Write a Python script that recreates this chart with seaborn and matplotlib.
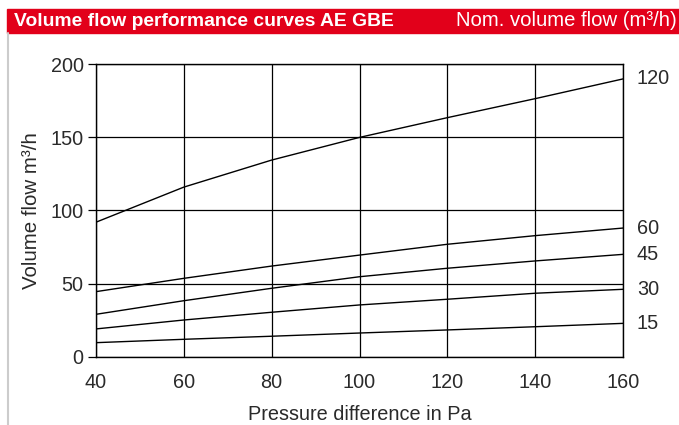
import pandas as pd
import seaborn as sns
import matplotlib.pyplot as plt
from matplotlib.patches import Rectangle
from matplotlib.lines import Line2D

# pressure difference (Pa)
pressure = [40, 60, 80, 100, 120, 140, 160]
# nominal volume flow -> curve values (m3/h)
flow_120 = [92, 116, 134.5, 150, 163.5, 176.5, 190]
flow_60 = [44.5, 53.6, 62, 69.5, 76.9, 82.8, 88]
flow_45 = [29, 38.3, 46.8, 54.7, 60.5, 65.5, 70]
flow_30 = [19, 25.1, 30.4, 35.4, 39.3, 43.4, 46.1]
flow_15 = [9.6, 11.9, 14, 16.2, 18.3, 20.5, 22.8]
nominal = ['120', '60', '45', '30', '15']

curves = [flow_120, flow_60, flow_45, flow_30, flow_15]
rows = []
for nom, vals in zip(nominal, curves):
    for p, v in zip(pressure, vals):
        rows.append({'pressure': p, 'flow': v, 'nominal': nom})
df = pd.DataFrame(rows)

sns.set_theme(style='white')
plt.rcParams['font.family'] = ['Liberation Sans', 'DejaVu Sans']

W, H = 679, 425
txt = '#2a2a2a'
fs = 14.3
fig = plt.figure(figsize=(W / 100, H / 100), dpi=100)
ax = fig.add_axes([96 / W, 1 - 356.7 / H, (623 - 96) / W, (356.7 - 64.3) / H])

sns.lineplot(data=df, x='pressure', y='flow', hue='nominal',
             palette=['black'] * len(nominal), legend=False,
             linewidth=1.0, ax=ax)

ax.set_xlim(40, 160)
ax.set_ylim(0, 200)
ax.set_xticks(range(40, 161, 20))
ax.set_yticks(range(0, 201, 50))
ax.grid(True, color='black', linewidth=0.9)
for s in ax.spines.values():
    s.set_color('black')
    s.set_linewidth(1)
ax.tick_params(axis='y', length=6, width=0.9, color='black', labelsize=fs,
               labelcolor=txt, pad=3, left=True)
ax.tick_params(axis='x', length=0, labelsize=fs, labelcolor=txt, pad=12)
ax.set_xlabel('Pressure difference in Pa', fontsize=fs, color=txt, labelpad=9)
ax.set_ylabel('Volume flow m³/h', fontsize=fs + 0.5, color=txt, labelpad=7)

# curve labels on the right
for nom, vals in zip(nominal, curves):
    ax.annotate(nom, xy=(160, vals[-1]), xytext=(10, 0), textcoords='offset points',
                va='center', ha='left', fontsize=fs, color=txt,
                annotation_clip=False)

# header bar and frame line
fig.patches.append(Rectangle((7 / W, 1 - 33 / H), (W - 7) / W, 24 / H,
                             transform=fig.transFigure, color='#E2001A', zorder=0))
fig.lines.append(Line2D([7.5 / W, 7.5 / W], [0, 1 - 33 / H],
                        transform=fig.transFigure, color='#cccccc', linewidth=1.5))
fig.text(14 / W, 1 - 21 / H, 'Volume flow performance curves AE GBE', color='white',
         fontsize=13.9, fontweight='bold', va='center', ha='left')
fig.text(677 / W, 1 - 21 / H, 'Nom. volume flow (m³/h)', color='white',
         fontsize=14.6, va='center', ha='right')

fig.savefig('out.png', dpi=100)
